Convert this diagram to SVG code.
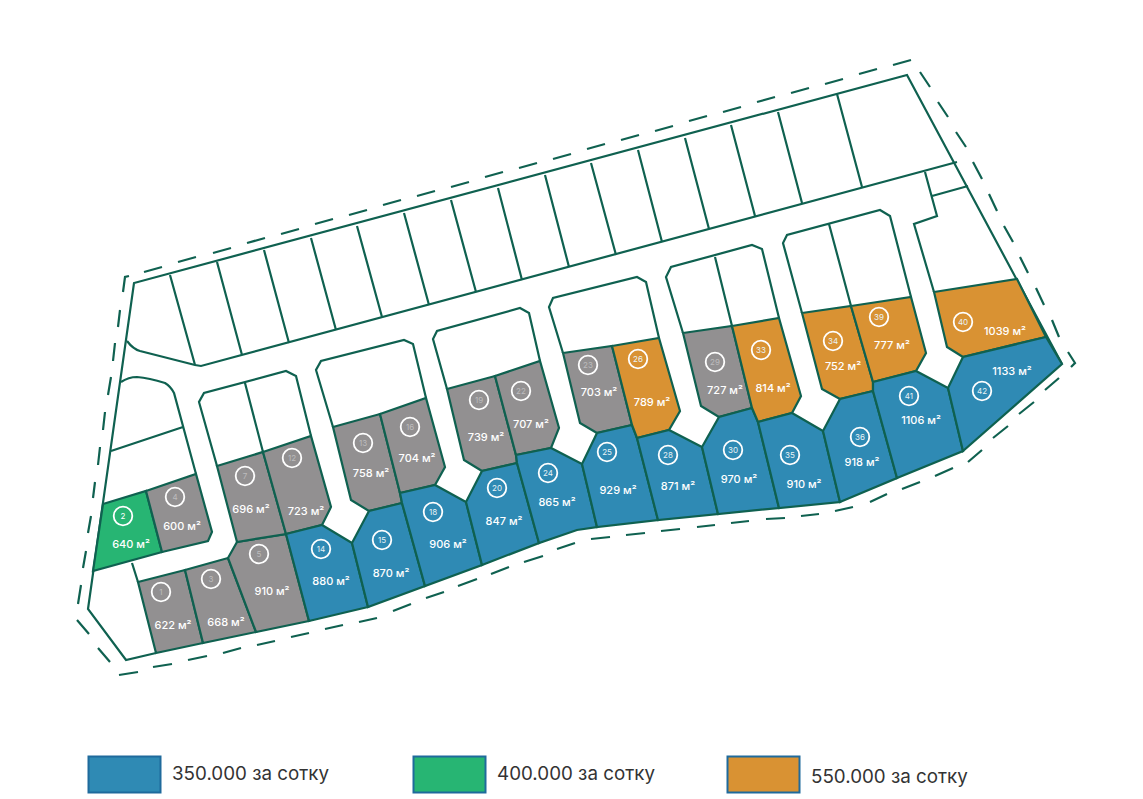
<svg xmlns="http://www.w3.org/2000/svg" width="1143" height="799" viewBox="0 0 1143 799">
<style>
.l{stroke:#0f6150;stroke-width:2.2;stroke-linejoin:miter}
.ln{fill:none;stroke:#0f6150;stroke-width:2.2;stroke-linejoin:miter}
.d{fill:none;stroke:#0f6150;stroke-width:2.2;stroke-linecap:butt}
.gy{fill:#929091}.bl{fill:#2f8ab4}.gr{fill:#27b573}.or{fill:#d99233}
.c{fill:none;stroke:#fff;stroke-width:1.8}
text{font-family:"Inter","Noto Sans","Liberation Sans",sans-serif;text-anchor:middle}
.n{font-size:8px;fill:#e8f2f6}
.gy~.n{fill:#bdbcbd}
.a{font-size:11px;fill:#fff;font-weight:500}
.t{font-size:18.800px;fill:#333;text-anchor:start}
</style>
<rect width="1143" height="799" fill="#fff"/>
<g id="connectors">
<path class="ln" d="M156,653L126,660L88,609L134,283L907,75L1062,364"/>
<path class="ln" d="M127,341Q133,349 140,351L195,365L201,366L957,162"/>
<path class="ln" d="M170,275L195,365M217,262L242,355M264,250L289,343M311,238L336,330M357,226L382,317M404,213L429,305M451,200L476,292M498,188L522,280M545,175L569,267M591,163L616,255M638,150L662,242M685,138L709,229M731,125L755,216M778,112L802,203M837,94L862,187"/>
<path class="ln" d="M121,382C127,378 133,377 137,377C147,378 155,380 165,383C170,386 172,389 174,393L196,474M111,451L183,427M132,563L138,582"/>
<path class="ln" d="M217,466L199,402L204,393L286,371L296,376L311,436M245,383L263,452"/>
<path class="ln" d="M333,427L316,370L321,361L404,340L413,344L426,398"/>
<path class="ln" d="M447,389L433,339L437,331L520,308L529,313L540,361"/>
<path class="ln" d="M563,353L549,307L553,298L637,277L646,282L659,338"/>
<path class="ln" d="M683,333L666,277L671,267L752,245L762,249L779,318M715,257L732,326"/>
<path class="ln" d="M802,313L783,243L787,235L880,210L890,216L911,297M829,224L851,306"/>
<path class="ln" d="M925,172L937,216L914,224L934,292M932,196L968,186"/>
<path class="d" d="M129,276L125,277L123,292M120,310L118,327M115,343L113,361M111,377L108,395M105,412L103,430M100,447L98,465M95,482L93,498M91,516L88,533M86,551L83,568M81,585L78,604M77,620L89,634M98,648L110,662"/>
<path class="d" d="M119,675L138,672M153,667L172,664M188,660L207,656M223,653L241,648M257,645L275,641M291,637L309,633M325,629L343,625M359,622L377,618M393,611L411,604M426,598L444,592M458,586L477,579M491,574L509,567M524,562L543,556M557,549L575,543M591,539L610,537M626,535L645,533M661,531L680,529M697,527L715,525M731,523L749,521M766,519L785,518M801,516L819,514M835,511L853,507M870,502L887,494M902,489L920,482M935,476L953,468M968,462L982,450M993,438L1008,426M1019,414L1034,402M1045,390L1059,378"/>
<path class="d" d="M144,272L162,267M1071,367L1075,363L1068,352M1059,337L1052,320M1044,305L1036,288M1028,273L1020,257M1013,242L1004,226M997,211L989,194M982,179L973,162M966,147L956,132M948,117L938,102M930,87L920,72M911,60L893,65M859,74L877,69M825,84L843,79M791,93L809,88M757,102L775,97M723,112L741,107M689,121L707,116M655,131L673,126M621,140L639,135M587,149L605,144M553,159L571,154M519,168L537,163M485,177L503,172M451,187L469,182M417,196L435,191M383,205L401,200M349,215L367,210M315,224L333,219M281,234L299,229M247,243L265,238M213,253L231,248M178,262L196,257"/>
</g>
<g id="lot-1"><polygon class="l gy" points="138,582 185,570 203,643 156,653"/><circle class="c" cx="161" cy="592" r="9.300"/><text class="n" x="161" y="595">1</text><text class="a" x="173" y="629">622 м²</text></g>
<g id="lot-2"><polygon class="l gr" points="103,504 146,491 162,552 93,571"/><circle class="c" cx="123" cy="516" r="9.300"/><text class="n" x="123" y="519" style="fill:#fff">2</text><text class="a" x="131" y="548">640 м²</text></g>
<g id="lot-3"><polygon class="l gy" points="185,570 228,558 256,632 203,643"/><circle class="c" cx="211" cy="579" r="9.300"/><text class="n" x="211" y="582">3</text><text class="a" x="226" y="626">668 м²</text></g>
<g id="lot-4"><polygon class="l gy" points="146,491 196,474 212,532 208,541 162,552"/><circle class="c" cx="175" cy="497" r="9.300"/><text class="n" x="175" y="500">4</text><text class="a" x="182" y="530">600 м²</text></g>
<g id="lot-5"><polygon class="l gy" points="228,558 237,542 286,534 309,621 256,632"/><circle class="c" cx="259" cy="554" r="9.300"/><text class="n" x="259" y="557">5</text><text class="a" x="272" y="595">910 м²</text></g>
<g id="lot-7"><polygon class="l gy" points="217,466 263,452 286,534 237,542"/><circle class="c" cx="245" cy="476" r="9.300"/><text class="n" x="245" y="479">7</text><text class="a" x="251" y="513">696 м²</text></g>
<g id="lot-12"><polygon class="l gy" points="263,452 311,436 331,507 322,525 286,534"/><circle class="c" cx="292" cy="458" r="9.300"/><text class="n" x="292" y="461">12</text><text class="a" x="306" y="515">723 м²</text></g>
<g id="lot-13"><polygon class="l gy" points="333,427 380,414 400,493 402,503 369,511 351,500"/><circle class="c" cx="363" cy="443" r="9.300"/><text class="n" x="363" y="446">13</text><text class="a" x="371" y="477">758 м²</text></g>
<g id="lot-14"><polygon class="l bl" points="286,534 322,525 352,543 368,607 309,621"/><circle class="c" cx="321" cy="549" r="9.300"/><text class="n" x="321" y="552">14</text><text class="a" x="331" y="585">880 м²</text></g>
<g id="lot-15"><polygon class="l bl" points="352,543 369,511 402,503 425,586 368,607"/><circle class="c" cx="382" cy="540" r="9.300"/><text class="n" x="382" y="543">15</text><text class="a" x="391" y="577">870 м²</text></g>
<g id="lot-16"><polygon class="l gy" points="380,414 426,398 445,467 435,485 400,493"/><circle class="c" cx="410" cy="427" r="9.300"/><text class="n" x="410" y="430">16</text><text class="a" x="417" y="462">704 м²</text></g>
<g id="lot-18"><polygon class="l bl" points="400,493 435,485 466,502 482,565 425,586 402,503"/><circle class="c" cx="433" cy="512" r="9.300"/><text class="n" x="433" y="515">18</text><text class="a" x="448" y="548">906 м²</text></g>
<g id="lot-19"><polygon class="l gy" points="447,389 495,376 516,455 517,463 482,471 464,460"/><circle class="c" cx="479" cy="400" r="9.300"/><text class="n" x="479" y="403">19</text><text class="a" x="486" y="441">739 м²</text></g>
<g id="lot-20"><polygon class="l bl" points="466,502 482,471 517,463 539,543 482,565"/><circle class="c" cx="497" cy="488" r="9.300"/><text class="n" x="497" y="491">20</text><text class="a" x="504" y="525">847 м²</text></g>
<g id="lot-22"><polygon class="l gy" points="495,376 540,361 559,428 551,448 516,455"/><circle class="c" cx="521" cy="391" r="9.300"/><text class="n" x="521" y="394">22</text><text class="a" x="531" y="428">707 м²</text></g>
<g id="lot-23"><polygon class="l gy" points="563,353 612,346 632,425 597,433 580,423"/><circle class="c" cx="588" cy="365" r="9.300"/><text class="n" x="588" y="368">23</text><text class="a" x="599" y="396">703 м²</text></g>
<g id="lot-24"><polygon class="l bl" points="516,455 551,448 582,464 597,527 577,530 539,543 517,463"/><circle class="c" cx="548" cy="473" r="9.300"/><text class="n" x="548" y="476">24</text><text class="a" x="557" y="506">865 м²</text></g>
<g id="lot-25"><polygon class="l bl" points="582,464 597,433 632,425 637,438 658,520 597,527"/><circle class="c" cx="607" cy="452" r="9.300"/><text class="n" x="607" y="455">25</text><text class="a" x="618" y="494">929 м²</text></g>
<g id="lot-26"><polygon class="l or" points="612,346 659,338 680,411 669,430 637,438 632,425"/><circle class="c" cx="638" cy="359" r="9.300"/><text class="n" x="638" y="362">26</text><text class="a" x="652" y="406">789 м²</text></g>
<g id="lot-28"><polygon class="l bl" points="637,438 669,430 702,447 718,514 658,520"/><circle class="c" cx="668" cy="455" r="9.300"/><text class="n" x="668" y="458">28</text><text class="a" x="678" y="490">871 м²</text></g>
<g id="lot-29"><polygon class="l gy" points="683,333 732,326 752,408 719,417 701,406"/><circle class="c" cx="715" cy="362" r="9.300"/><text class="n" x="715" y="365">29</text><text class="a" x="725" y="394">727 м²</text></g>
<g id="lot-30"><polygon class="l bl" points="702,447 719,417 752,408 758,422 779,508 718,514"/><circle class="c" cx="733" cy="450" r="9.300"/><text class="n" x="733" y="453">30</text><text class="a" x="739" y="483">970 м²</text></g>
<g id="lot-33"><polygon class="l or" points="732,326 779,318 801,396 792,413 758,422 752,408"/><circle class="c" cx="761" cy="350" r="9.300"/><text class="n" x="761" y="353">33</text><text class="a" x="773" y="392">814 м²</text></g>
<g id="lot-34"><polygon class="l or" points="802,313 851,306 873,382 873,391 840,399 822,389"/><circle class="c" cx="833" cy="341" r="9.300"/><text class="n" x="833" y="344">34</text><text class="a" x="843" y="370">752 м²</text></g>
<g id="lot-35"><polygon class="l bl" points="758,422 792,413 823,431 840,502 779,508"/><circle class="c" cx="790" cy="455" r="9.300"/><text class="n" x="790" y="458">35</text><text class="a" x="804" y="488">910 м²</text></g>
<g id="lot-36"><polygon class="l bl" points="823,431 840,399 873,391 897,478 840,502"/><circle class="c" cx="860" cy="437" r="9.300"/><text class="n" x="860" y="440">36</text><text class="a" x="862" y="466">918 м²</text></g>
<g id="lot-39"><polygon class="l or" points="851,306 911,297 926,353 916,371 873,382"/><circle class="c" cx="879" cy="317" r="9.300"/><text class="n" x="879" y="320">39</text><text class="a" x="892" y="349">777 м²</text></g>
<g id="lot-40"><polygon class="l or" points="934,292 1017,279 1046,337 963,357 947,347"/><circle class="c" cx="963" cy="322" r="9.300"/><text class="n" x="963" y="325">40</text><text class="a" x="1005" y="335">1039 м²</text></g>
<g id="lot-41"><polygon class="l bl" points="873,382 916,371 948,388 963,451 897,478 873,391"/><circle class="c" cx="909" cy="396" r="9.300"/><text class="n" x="909" y="399">41</text><text class="a" x="921" y="424">1106 м²</text></g>
<g id="lot-42"><polygon class="l bl" points="948,388 963,357 1046,337 1062,364 963,451"/><circle class="c" cx="982" cy="391" r="9.300"/><text class="n" x="982" y="394">42</text><text class="a" x="1012" y="375">1133 м²</text></g>
<g id="legend-350"><rect x="88.500" y="756.500" width="72" height="36" fill="#2f8ab4" stroke="#1f6a9c" stroke-width="2"/><text class="t" x="172" y="780">350.000 за сотку</text></g>
<g id="legend-400"><rect x="413.500" y="756.500" width="72" height="36" fill="#27b573" stroke="#1f6a9c" stroke-width="2"/><text class="t" x="497" y="780">400.000 за сотку</text></g>
<g id="legend-550"><rect x="727.500" y="756.500" width="72" height="36" fill="#d99233" stroke="#1f6a9c" stroke-width="2"/><text class="t" x="811" y="783">550.000 за сотку</text></g>
</svg>
